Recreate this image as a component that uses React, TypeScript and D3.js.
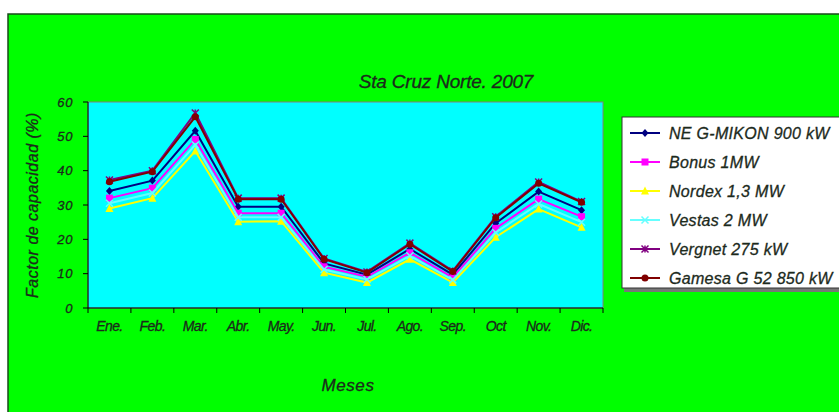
import React from "react";
import * as d3 from "d3";

const months = ["Ene.", "Feb.", "Mar.", "Abr.", "May.", "Jun.", "Jul.", "Ago.", "Sep.", "Oct", "Nov.", "Dic."];
const yTicks = [0, 10, 20, 30, 40, 50, 60];
const seriesNames = ["NE G-MIKON 900 kW", "Bonus 1MW", "Nordex 1,3 MW", "Vestas 2 MW", "Vergnet 275 kW", "Gamesa G 52 850 kW"];
const neGmikon = [34.1, 37.1, 51.6, 29.5, 29.5, 13.0, 9.7, 17.2, 9.7, 24.7, 33.9, 28.5];
const bonus = [32.0, 34.9, 49.1, 27.6, 27.6, 12.0, 9.1, 16.1, 8.9, 23.2, 31.7, 26.6];
const nordex = [29.0, 32.0, 45.7, 25.1, 25.3, 10.3, 7.4, 14.2, 7.4, 20.6, 28.8, 23.5];
const vestas = [30.5, 33.5, 47.5, 26.4, 26.4, 11.2, 8.3, 15.2, 8.2, 22.0, 30.3, 25.0];
const vergnet = [37.3, 40.0, 56.8, 32.0, 32.0, 14.4, 10.5, 18.9, 10.8, 26.6, 36.7, 31.0];
const gamesa = [36.8, 39.7, 55.7, 31.7, 31.7, 14.2, 10.3, 18.6, 10.6, 26.3, 36.3, 30.8];

const seriesValues = [neGmikon, bonus, nordex, vestas, vergnet, gamesa];
const colors = ["#000080", "#FF00FF", "#FFFF00", "#66FFFF", "#800080", "#800000"];
const markers = ["diamond", "square", "triangle", "x", "star", "circle"];

const W = 839, H = 412;
const plot = { left: 88, right: 603, top: 102, bottom: 308 };
const font = "'Liberation Sans', Arial, sans-serif";
const textColor = "#1c2a1c";
const textStroke = { stroke: "#1c2a1c", strokeWidth: 0.3 };

function Marker({ type, x, y, color }: { type: string; x: number; y: number; color: string }) {
  const s = 3.5;
  if (type === "diamond") return <path d={`M${x},${y - s - 0.5}L${x + s},${y}L${x},${y + s + 0.5}L${x - s},${y}Z`} fill={color} />;
  if (type === "square") return <rect x={x - s} y={y - s} width={2 * s} height={2 * s} fill={color} />;
  if (type === "triangle") return <path d={`M${x},${y - s - 1}L${x + s + 0.5},${y + s}L${x - s - 0.5},${y + s}Z`} fill={color} />;
  if (type === "x") return <path d={`M${x - s},${y - s}L${x + s},${y + s}M${x - s},${y + s}L${x + s},${y - s}`} stroke={color} strokeWidth={1.5} />;
  if (type === "star") return <path d={`M${x - s},${y - s}L${x + s},${y + s}M${x - s},${y + s}L${x + s},${y - s}M${x},${y - s}L${x},${y + s}`} stroke={color} strokeWidth={1.5} />;
  return <circle cx={x} cy={y} r={s} fill={color} />;
}

export default function App() {
  const x = d3.scaleBand<string>().domain(months).range([plot.left, plot.right]);
  const y = d3.scaleLinear().domain([0, 60]).range([plot.bottom, plot.top]);
  const cx = (m: string) => (x(m) as number) + x.bandwidth() / 2;
  const line = d3.line<number>().x((_, i) => cx(months[i])).y((v) => y(v));
  const bounds = months.map((m) => x(m) as number).concat([plot.right]);

  const legendTop = 117;
  const legendStep = 29;

  return (
    <svg width={W} height={H} style={{ position: "absolute", left: 0, top: 0, background: "#fff" }} fontFamily={font}>
      <rect x={8} y={14} width={W} height={H} fill="#00FF00" stroke="#1a4a1a" strokeWidth={1.5} />
      <text x={446} y={88} textAnchor="middle" fontSize={19} fontStyle="italic" fill={textColor} {...textStroke} letterSpacing={-0.2}>Sta Cruz Norte. 2007</text>
      <rect x={plot.left} y={plot.top} width={plot.right - plot.left} height={plot.bottom - plot.top} fill="#00FFFF" stroke="#808080" strokeWidth={1} />
      {/* y axis */}
      <line x1={plot.left} x2={plot.left} y1={plot.top} y2={plot.bottom} stroke="#000" />
      {yTicks.map((t) => (
        <g key={t}>
          <line x1={plot.left - 5} x2={plot.left} y1={y(t)} y2={y(t)} stroke="#000" />
          <text x={plot.left - 15} y={y(t) + 4.5} textAnchor="end" fontSize={13} fontStyle="italic" fill={textColor} {...textStroke} letterSpacing={0.6}>{t}</text>
        </g>
      ))}
      {/* x axis */}
      <line x1={plot.left} x2={plot.right} y1={plot.bottom} y2={plot.bottom} stroke="#000" />
      {bounds.map((b, i) => (
        <line key={i} x1={b} x2={b} y1={plot.bottom} y2={plot.bottom + 5} stroke="#000" />
      ))}
      {months.map((m) => (
        <text key={m} x={cx(m)} y={plot.bottom + 23} textAnchor="middle" fontSize={14} fontStyle="italic" fill={textColor} {...textStroke} letterSpacing={-0.6}>{m}</text>
      ))}
      <text x={348} y={391} textAnchor="middle" fontSize={17} fontStyle="italic" fill={textColor} {...textStroke} letterSpacing={0.6}>Meses</text>
      <text transform={`translate(38,${(plot.top + plot.bottom) / 2}) rotate(-90)`} textAnchor="middle" fontSize={16} fontStyle="italic" fill={textColor} {...textStroke} letterSpacing={0.5}>Factor de capacidad (%)</text>
      {/* series */}
      {seriesValues.map((vals, si) => (
        <g key={si}>
          <path d={line(vals) as string} fill="none" stroke={colors[si]} strokeWidth={2} />
          {vals.map((v, i) => (
            <Marker key={i} type={markers[si]} x={cx(months[i])} y={y(v)} color={colors[si]} />
          ))}
        </g>
      ))}
      {/* legend */}
      <rect x={624} y={legendTop + 2} width={W} height={173} fill="#777" />
      <rect x={622} y={legendTop} width={W} height={171} fill="#fff" stroke="#333" strokeWidth={1} />
      {seriesNames.map((n, i) => {
        const ly = legendTop + 16 + i * legendStep;
        return (
          <g key={n}>
            <line x1={630} x2={660} y1={ly} y2={ly} stroke={colors[i]} strokeWidth={2} />
            <Marker type={markers[i]} x={645} y={ly} color={colors[i]} />
            <text x={669} y={ly + 5.5} fontSize={16} fontStyle="italic" fill={textColor} {...textStroke} letterSpacing={0.3}>{n}</text>
          </g>
        );
      })}
    </svg>
  );
}
